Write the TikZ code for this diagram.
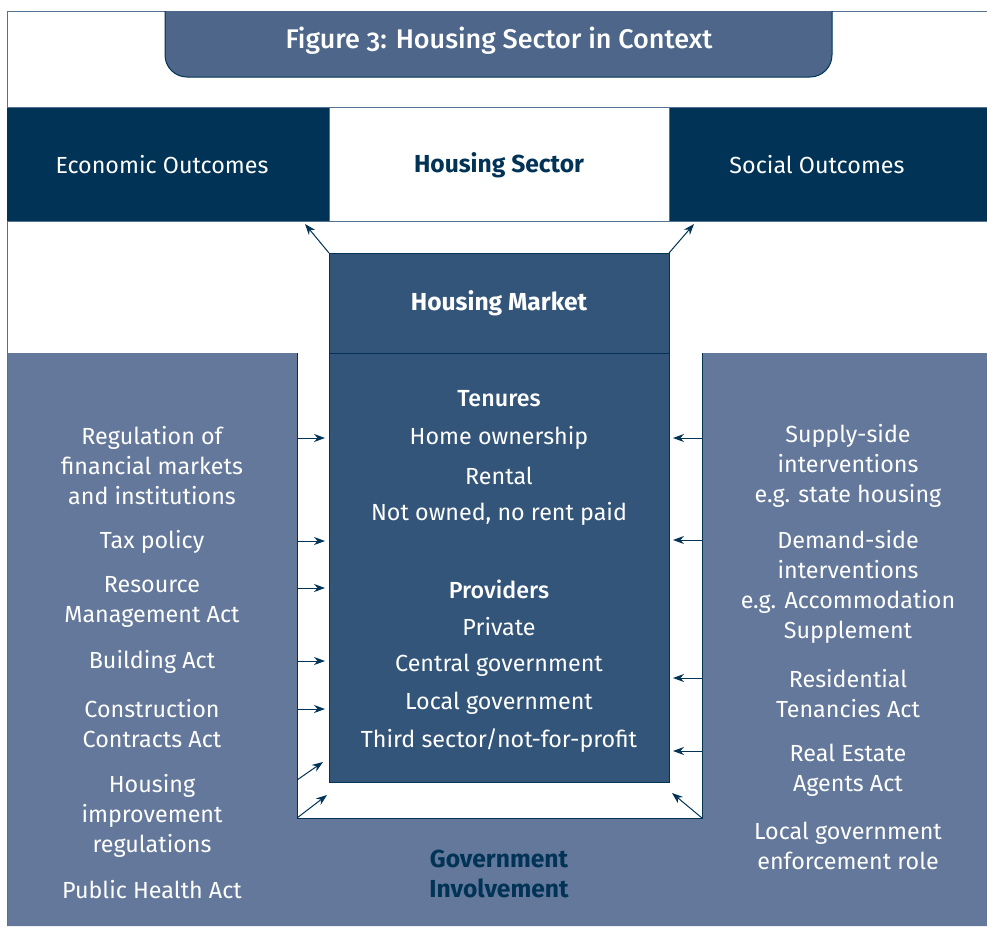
\documentclass[tikz,border=0pt]{standalone}
\usepackage{fontspec}
\setmainfont{Fira Sans}
\newfontfamily\medfont{Fira Sans Medium}[Numbers=OldStyle]
\usetikzlibrary{positioning, arrows.meta}

\definecolor{navy}{HTML}{003355}
\definecolor{titleblue}{HTML}{4D6689}
\definecolor{marketblue}{HTML}{34557A}
\definecolor{govblue}{HTML}{63789A}
\definecolor{rule}{HTML}{557390}

\newcommand\bodysize{\fontsize{23.3}{30}\selectfont}
\newcommand\boldsize{\bfseries\fontsize{24.6}{30}\selectfont}

\tikzset{
  frame/.style={draw=rule, line width=1pt},
  edge/.style={draw=navy, line width=1pt},
  arr/.style={-{Stealth[length=11pt,width=8pt]}, navy, line width=1pt},
  band/.style={minimum height=114pt, inner sep=0pt, outer sep=0pt, font=\bodysize},
  mbox/.style={fill=marketblue, draw=navy, line width=1pt, minimum width=340pt,
    inner sep=0pt, outer sep=0pt},
  item/.style={text=white, align=center, inner sep=0pt, font=\bodysize},
  head/.style={item, font=\medfont\bodysize},
}

\begin{document}
\begin{tikzpicture}[x=1pt, y=-1pt]
\useasboundingbox (0,0) rectangle (987,926);

% government involvement around the market
\coordinate (cutNW) at (297,353);
\coordinate (cutSW) at (297,818);
\coordinate (cutSE) at (702,818);
\coordinate (cutNE) at (702,353);
\fill[govblue] (7,353) -- (cutNW) -- (cutSW) -- (cutSE) -- (cutNE) -- (987,353)
  -- (987,926) -- (7,926) -- cycle;
\draw[edge] (cutNW) -- (cutSW) -- (cutSE) -- (cutNE);

% outer frame
\draw[frame] (7,926) -- (7,11) -- (987,11);

% title tab
\filldraw[fill=titleblue, draw=navy, line width=1pt, rounded corners=22pt]
  (165,11) -- (165,77) -- (832,77) -- (832,11);
\node[item, font=\medfont\fontsize{27}{30}\selectfont]
  (title) at (499,41) {Figure 3: Housing Sector in Context};

% outcomes band
\node[band, fill=navy, text=white, minimum width=322pt] (econ) at (168,165) {\hspace*{-12pt}Economic Outcomes};
\node[band, fill=white, text=navy, font=\boldsize,
  minimum width=340pt, right=0pt of econ] (sector) {Housing Sector};
\node[band, fill=navy, text=white, minimum width=318pt, right=0pt of sector] (social) {Social Outcomes\hspace*{22pt}};
\draw[frame] (7,107) -- (987,107);
\draw[frame] (7,221) -- (987,221);
\draw[frame] (sector.north west) -- (sector.south west);
\draw[frame] (sector.north east) -- (sector.south east);

% housing market
\node[mbox, minimum height=100pt, text=white, font=\boldsize]
  (mhead) at (499,303) {Housing Market};
\node[mbox, minimum height=429pt, below=0pt of mhead] (market) {};

\coordinate (econtip) at (305,224);
\coordinate (socialtip) at (694,224);
\draw[arr] (mhead.north west) -- (econtip);
\draw[arr] (mhead.north east) -- (socialtip);

\node[head] (tenures) at (499,399) {Tenures};
\node[item] (ownership) at (499,438) {Home ownership};
\node[item] (rental) at (499,476) {Rental};
\node[item] (notowned) at (499,514) {Not owned, no rent paid};
\node[head] (providers) at (499,589) {Providers};
\node[item] (private) at (499,627) {Private};
\node[item] (central) at (499,665) {Central government};
\node[item] (local) at (499,703) {Local government};
\node[item] (third) at (499,741) {Third sector/not-for-profit};

% left panel
\node[item] (regfin) at (152,466) {Regulation of\\financial markets\\and institutions};
\node[item] (tax) at (152,542) {Tax policy};
\node[item] (rma) at (152,602) {Resource\\Management Act};
\node[item] (building) at (152,662) {Building Act};
\node[item] (ccact) at (152,724) {Construction\\Contracts Act};
\node[item] (himp) at (152,816) {Housing\\improvement\\regulations};
\node[item] (pha) at (152,890) {Public Health Act};

% right panel
\node[item] (supply) at (848,466) {Supply-side\\interventions\\e.g. state housing};
\node[item] (demand) at (848,587) {Demand-side\\interventions\\e.g. Accommodation\\Supplement};
\node[item] (rta) at (848,694) {Residential\\Tenancies Act};
\node[item] (reaa) at (848,770) {Real Estate\\Agents Act};
\node[item] (localgov) at (848,846) {Local government\\enforcement role};

\node[item, text=navy, font=\boldsize] (gov) at (499,874) {Government\\Involvement};

% influences on the market
\foreach \y in {438,541,588,661,709}
  \draw[arr, shorten >=4pt] (cutNW |- 0,\y) -- (market.west |- 0,\y);
\foreach \y in {438,540,678,751}
  \draw[arr, shorten >=4pt] (cutNE |- 0,\y) -- (market.east |- 0,\y);
\coordinate (himpfrom) at (297,780);
\coordinate (himptip) at (323,762);
\coordinate (swtip) at (327,795);
\coordinate (setip) at (672,793);
\draw[arr] (himpfrom) -- (himptip);
\draw[arr] (cutSW) -- (swtip);
\draw[arr] (cutSE) -- (setip);
\end{tikzpicture}
\end{document}
